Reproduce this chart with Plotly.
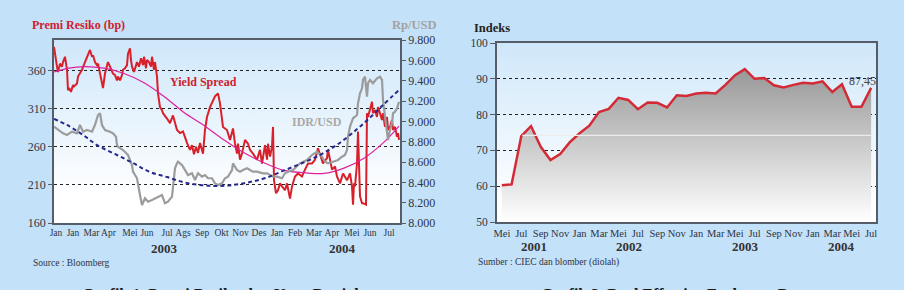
import base64
import plotly.graph_objects as go

# ---------------- Left chart: risk premium (bp) & IDR/USD ----------------
spread_day = [0, 1, 3, 4, 6, 8, 9, 11, 13, 14, 15, 17, 19, 20, 23, 24, 26, 28, 31, 33, 34, 36, 38, 39,
              41, 43, 44, 46, 48, 49, 51, 53, 54, 56, 58, 59, 61, 63, 64, 66, 68, 69, 71, 73, 74, 76,
              77, 78, 80, 82, 83, 85, 87, 89, 90, 92, 93, 95, 97, 98, 100, 101, 103, 104, 106, 108,
              109, 113, 116, 119, 123, 126, 129, 133, 136, 138, 140, 142, 144, 146, 149, 151, 153,
              156, 161, 164, 166, 169, 173, 176, 179, 181, 183, 184, 186, 188, 191, 194, 196, 199,
              203, 206, 208, 211, 213, 214, 216, 218, 219, 220, 222, 224, 226, 228, 231, 233, 236,
              238, 241, 244, 248, 251, 254, 258, 261, 264, 266, 269, 273, 274, 278, 281, 283, 286,
              289, 293, 296, 298, 299, 300, 301, 303, 304, 305, 306, 308, 309, 312, 313, 314, 316,
              318, 319, 321, 323, 324, 326, 328, 329, 331, 333, 334, 336, 338, 339, 341, 343, 344, 345]
spread_bp = [391, 380, 365, 358, 369, 365, 371, 378, 361, 334, 337, 332, 341, 339, 343, 352, 356, 361,
             371, 378, 382, 387, 378, 380, 371, 367, 369, 356, 347, 337, 356, 365, 371, 365, 358, 356,
             354, 347, 352, 347, 354, 361, 363, 367, 382, 389, 374, 365, 358, 369, 371, 365, 376, 367,
             378, 363, 374, 371, 365, 378, 361, 371, 352, 330, 312, 308, 304, 297, 291, 301, 282, 278,
             280, 265, 256, 262, 250, 260, 252, 265, 251, 282, 299, 312, 326, 330, 317, 286, 282, 269,
             284, 264, 251, 264, 243, 251, 269, 264, 256, 251, 243, 256, 238, 262, 243, 264, 247, 260,
             286, 216, 199, 203, 212, 208, 203, 212, 192, 208, 221, 225, 221, 230, 238, 238, 243, 258,
             251, 238, 245, 256, 230, 234, 221, 212, 225, 216, 225, 208, 184, 212, 208, 238, 280, 230,
             195, 186, 186, 184, 304, 299, 308, 319, 304, 308, 299, 312, 304, 295, 304, 286, 299, 282,
             286, 295, 282, 286, 273, 278, 269]

idr_day = [0, 4, 9, 13, 18, 23, 26, 29, 33, 38, 41, 44, 46, 48, 51, 56, 59, 62, 63, 64, 69, 74, 78, 79,
           83, 86, 88, 91, 94, 98, 101, 104, 108, 111, 114, 118, 119, 121, 123, 124, 128, 131, 134,
           138, 141, 144, 148, 151, 154, 158, 161, 164, 168, 171, 174, 178, 179, 183, 186, 189, 193,
           196, 199, 203, 209, 213, 216, 219, 223, 228, 231, 234, 239, 243, 246, 253, 258, 263, 268,
           271, 274, 279, 284, 288, 291, 293, 294, 296, 299, 303, 304, 306, 308, 309, 311, 313, 314,
           316, 319, 323, 326, 328, 329, 331, 333, 334, 336, 338, 339, 341, 343, 345]
idr_rp = [8947, 8915, 8882, 8866, 8898, 8882, 8964, 8898, 8915, 8898, 8964, 9062, 9079, 8964, 8915,
          8898, 8882, 8849, 8767, 8751, 8718, 8669, 8570, 8505, 8440, 8275, 8177, 8243, 8210, 8226,
          8243, 8259, 8275, 8194, 8210, 8259, 8374, 8538, 8587, 8603, 8570, 8521, 8472, 8489, 8423,
          8489, 8456, 8472, 8440, 8440, 8390, 8374, 8390, 8440, 8456, 8521, 8587, 8521, 8505, 8521,
          8538, 8521, 8505, 8505, 8489, 8489, 8472, 8456, 8456, 8440, 8489, 8505, 8521, 8554, 8587,
          8620, 8669, 8702, 8652, 8603, 8587, 8603, 8620, 8652, 8669, 8718, 8849, 8947, 9030, 9062,
          9177, 9276, 9325, 9407, 9439, 9242, 9374, 9407, 9374, 9423, 9439, 9407, 9210, 9046, 8882,
          8816, 8915, 8980, 9079, 9095, 9128, 9193]

spread_trend_day = [0, 15, 30, 50, 70, 90, 110, 130, 150, 170, 190, 210, 230, 250, 270, 290, 310, 330, 345]
spread_trend_bp = [358, 363, 365, 363, 356, 344, 326, 305, 288, 269, 252, 239, 229, 226, 225, 232, 245, 266, 287]

idr_trend_day = [0, 13, 29, 43, 63, 79, 96, 113, 129, 146, 163, 179, 196, 213, 229, 246, 263, 279, 296, 313, 329, 346]
idr_trend_rp = [9023, 8964, 8866, 8767, 8669, 8590, 8502, 8452, 8403, 8374, 8364, 8374, 8403, 8447,
                8513, 8580, 8654, 8743, 8865, 9010, 9160, 9318]

left_tick_day = [2, 19, 37.5, 54.5, 76, 93, 113, 129, 148, 167.5, 186.5, 205, 223, 241, 260, 278, 298, 316, 335]
left_tick_text = ["Jan", "Jan", "Mar", "Apr", "Mei", "Jun", "Jul", "Ags", "Sep", "Okt", "Nov", "Des",
                  "Jan", "Feb", "Mar", "Apr", "Mei", "Jun", "Jul"]
left_year_day = [110, 288]
left_year_text = ["2003", "2004"]
left_bp_ticks = [160, 210, 260, 310, 360]
left_rp_ticks = [8000, 8200, 8400, 8600, 8800, 9000, 9200, 9400, 9600, 9800]
left_rp_text = ["8.000", "8.200", "8.400", "8.600", "8.800", "9.000", "9.200", "9.400", "9.600", "9.800"]

# ---------------- Right chart: REER index ----------------
reer_value = [60.25, 60.5, 74.0, 76.8, 71.0, 67.3, 69.0, 72.3, 74.8, 76.9, 80.7, 81.6, 84.7, 84.1,
              81.5, 83.4, 83.3, 82.0, 85.4, 85.2, 85.9, 86.1, 85.9, 88.3, 91.0, 92.7, 90.0, 90.2,
              88.2, 87.6, 88.3, 88.9, 88.7, 89.3, 86.3, 88.5, 82.2, 82.2, 87.45]
reer_tick_text = ["Mei", "Jul", "Sep", "Nov", "Jan", "Mar", "Mei", "Jul", "Sep", "Nov", "Jan", "Mar",
                  "Mei", "Jul", "Sep", "Nov", "Jan", "Mar", "Mei", "Jul"]
reer_year_pos = [3.3, 13.1, 25.1, 34.9]
reer_year_text = ["2001", "2002", "2003", "2004"]
reer_last_label = "87,45"

# ---------------- styling ----------------
W, H = 904, 290
PAGE = "#c4e1fa"
FONT = "Liberation Serif"
AXC = "#555d68"
TXT = "#2e3440"


def px_x(p):
    return p / W


def px_y(p):
    return 1 - p / H


L_X = [px_x(54), px_x(400)]
L_Y = [px_y(223), px_y(40)]
R_X = [px_x(497), px_x(876)]
R_Y = [px_y(222), px_y(43)]


def grad_uri(top, bottom, off):
    svg = ('<svg xmlns="http://www.w3.org/2000/svg" width="100" height="100" viewBox="0 0 100 100" '
           'preserveAspectRatio="none"><defs><linearGradient id="g" x1="0" y1="0" x2="0" y2="1">'
           f'<stop offset="0" stop-color="{top}"/><stop offset="{off}" stop-color="{bottom}"/>'
           '</linearGradient></defs><rect width="100" height="100" fill="url(#g)"/></svg>')
    return "data:image/svg+xml;base64," + base64.b64encode(svg.encode()).decode()


fig = go.Figure()

fig.add_trace(go.Scatter(x=idr_day, y=idr_rp, mode="lines", yaxis="y2", xaxis="x",
                         line=dict(color="#9c9c9c", width=2.2), showlegend=False))
fig.add_trace(go.Scatter(x=idr_trend_day, y=idr_trend_rp, mode="lines", yaxis="y2", xaxis="x",
                         line=dict(color="#26288a", width=2, dash="4px,3px", shape="spline"),
                         showlegend=False))
fig.add_trace(go.Scatter(x=spread_day, y=spread_bp, mode="lines", yaxis="y", xaxis="x",
                         line=dict(color="#d9202a", width=2), showlegend=False))
fig.add_trace(go.Scatter(x=spread_trend_day, y=spread_trend_bp, mode="lines", yaxis="y", xaxis="x",
                         line=dict(color="#e0209e", width=1.2, shape="spline"), showlegend=False))

reer_x = list(range(len(reer_value)))
fig.add_trace(go.Scatter(x=reer_x, y=reer_value, mode="lines", xaxis="x2", yaxis="y3",
                         fill="tozeroy",
                         fillgradient=dict(type="vertical", start=50, stop=93,
                                           colorscale=[[0, "#ffffff"], [1, "#979797"]]),
                         line=dict(color="#d42a35", width=2.5), showlegend=False))

fig.update_layout(
    template="none",
    width=W, height=H, margin=dict(l=0, r=0, t=0, b=0, pad=0, autoexpand=False),
    showlegend=False,
    paper_bgcolor=PAGE, plot_bgcolor="rgba(0,0,0,0)",
    font=dict(family=FONT, color=TXT, size=11),
    xaxis=dict(domain=L_X, range=[0, 346], anchor="y", tickmode="array", tickvals=left_tick_day,
               ticktext=left_tick_text, tickangle=0, ticks="", showgrid=False, zeroline=False,
               showline=True, linecolor=AXC, linewidth=1.5, mirror=True, automargin=False,
               tickfont=dict(size=9.5, color=TXT, family=FONT)),
    yaxis=dict(domain=L_Y, range=[160, 400], anchor="x", tickmode="array", tickvals=left_bp_ticks,
               showgrid=True, gridcolor="#222222", griddash="dot", gridwidth=1, zeroline=False,
               ticks="outside", ticklen=4, tickcolor=AXC, showline=True, linecolor=AXC,
               linewidth=1.5, automargin=False, tickfont=dict(size=12, color=TXT, family=FONT)),
    yaxis2=dict(overlaying="y", side="right", anchor="x", range=[8000, 9800], tickmode="array",
                tickvals=left_rp_ticks, ticktext=left_rp_text, showgrid=False, zeroline=False,
                ticks="outside", ticklen=4, tickcolor=AXC, showline=True, linecolor=AXC,
                linewidth=1.5, automargin=False, tickfont=dict(size=12, color=TXT, family=FONT)),
    xaxis2=dict(domain=R_X, range=[-0.5, 38.5], anchor="y3", tickmode="array",
                tickvals=reer_x[::2], ticktext=reer_tick_text, tickangle=0, ticks="",
                showgrid=False, zeroline=False, showline=True, linecolor=AXC, linewidth=2,
                mirror=True, automargin=False, tickfont=dict(size=10.5, color=TXT, family=FONT)),
    yaxis3=dict(domain=R_Y, range=[50, 100], anchor="x2", dtick=10, tick0=50,
                showgrid=True, gridcolor="#222222", griddash="dot", gridwidth=1, zeroline=False,
                ticks="outside", ticklen=5, tickcolor=AXC, showline=True, linecolor=AXC,
                linewidth=2, mirror=True, automargin=False,
                tickfont=dict(size=11.5, color=TXT, family=FONT)),
    images=[
        dict(source=grad_uri("#cfe7fa", "#ffffff", 0.85), xref="paper", yref="paper",
             x=L_X[0], y=L_Y[1], sizex=L_X[1] - L_X[0], sizey=L_Y[1] - L_Y[0],
             sizing="stretch", layer="below", xanchor="left", yanchor="top"),
        dict(source=grad_uri("#cfe7fa", "#ffffff", 0.9), xref="paper", yref="paper",
             x=R_X[0], y=R_Y[1], sizex=R_X[1] - R_X[0], sizey=R_Y[1] - R_Y[0],
             sizing="stretch", layer="below", xanchor="left", yanchor="top"),
    ],
    shapes=[dict(type="line", xref="x2", yref="y3", x0=2.1, x1=38, y0=74.2, y1=74.2,
                 line=dict(color="#ececec", width=1.2), layer="above")],
)

ann = []
# left chart texts
ann.append(dict(text="<b>Premi Resiko (bp)</b>", xref="paper", yref="paper", x=px_x(30), y=px_y(25),
                xanchor="left", yanchor="middle", showarrow=False,
                font=dict(size=12, color="#d0202b", family=FONT)))
ann.append(dict(text="<b>Rp/USD</b>", xref="paper", yref="paper", x=px_x(414), y=px_y(25),
                xanchor="center", yanchor="middle", showarrow=False,
                font=dict(size=12.5, color="#a2a2a2", family=FONT)))
ann.append(dict(text="<b>Yield Spread</b>", xref="paper", yref="paper", x=px_x(203), y=px_y(82),
                xanchor="center", yanchor="middle", showarrow=False,
                font=dict(size=12, color="#d0202b", family=FONT)))
ann.append(dict(text="<b>IDR/USD</b>", xref="paper", yref="paper", x=px_x(317), y=px_y(122),
                xanchor="center", yanchor="middle", showarrow=False,
                font=dict(size=12, color="#a8a8a8", family=FONT)))
for d, t in zip(left_year_day, left_year_text):
    ann.append(dict(text=f"<b>{t}</b>", xref="x", yref="paper", x=d, y=px_y(248),
                    xanchor="center", yanchor="middle", showarrow=False,
                    font=dict(size=13, color="#333333", family=FONT)))
ann.append(dict(text="Source : Bloomberg", xref="paper", yref="paper", x=px_x(31), y=px_y(263),
                xanchor="left", yanchor="middle", showarrow=False,
                font=dict(size=9.5, color=TXT, family=FONT)))
ann.append(dict(text="<b>Grafik 1. Premi Resiko dan Kurs Rupiah</b>", xref="paper", yref="paper",
                x=px_x(222), y=px_y(284), xanchor="center", yanchor="top", showarrow=False,
                font=dict(size=16, color="#1a1a1a", family=FONT)))
# right chart texts
ann.append(dict(text="<b>Indeks</b>", xref="paper", yref="paper", x=px_x(472), y=px_y(28),
                xanchor="left", yanchor="middle", showarrow=False,
                font=dict(size=12.5, color="#222222", family=FONT)))
ann.append(dict(text=reer_last_label, xref="paper", yref="y3", x=px_x(878), y=reer_value[-1] + 1.9,
                xanchor="right", yanchor="middle", showarrow=False,
                font=dict(size=12, color="#444444", family=FONT)))
for p, t in zip(reer_year_pos, reer_year_text):
    ann.append(dict(text=f"<b>{t}</b>", xref="x2", yref="paper", x=p, y=px_y(246),
                    xanchor="center", yanchor="middle", showarrow=False,
                    font=dict(size=13, color="#333333", family=FONT)))
ann.append(dict(text="Sumber : CIEC dan blomber (diolah)", xref="paper", yref="paper", x=px_x(476),
                y=px_y(262), xanchor="left", yanchor="middle", showarrow=False,
                font=dict(size=9.5, color=TXT, family=FONT)))
ann.append(dict(text="<b>Grafik 2. Real Effective Exchange Rate</b>", xref="paper", yref="paper",
                x=px_x(675), y=px_y(284), xanchor="center", yanchor="top", showarrow=False,
                font=dict(size=16, color="#1a1a1a", family=FONT)))
fig.update_layout(annotations=ann)

fig.write_html("out.html")
